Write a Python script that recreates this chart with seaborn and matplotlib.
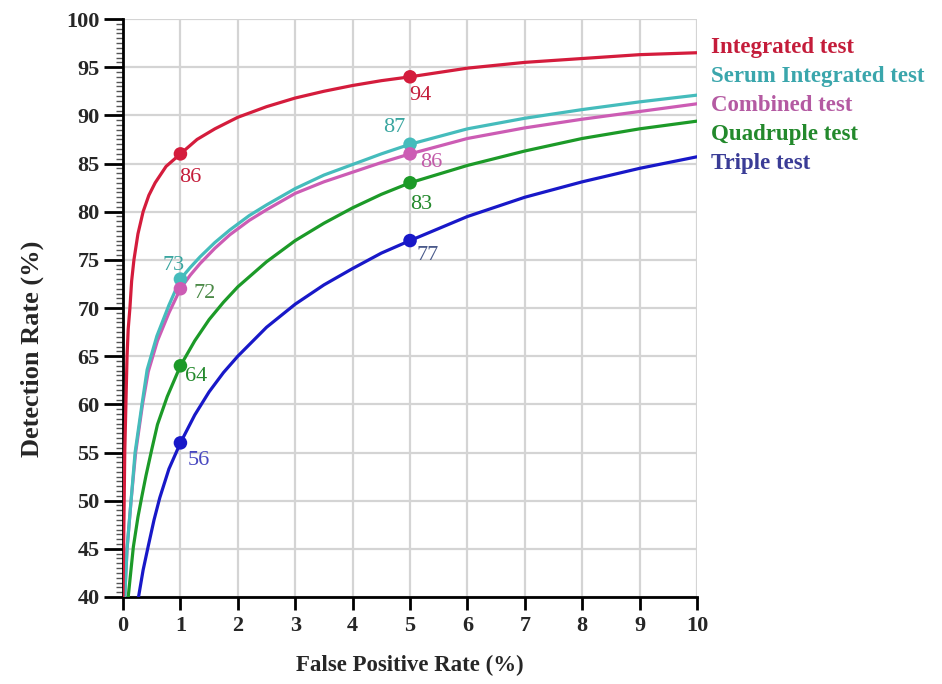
import matplotlib
matplotlib.use("Agg")
import matplotlib.pyplot as plt
from matplotlib.ticker import MultipleLocator
import pandas as pd
import seaborn as sns

# Screening-test ROC curves: detection rate vs false positive rate
tests = ["Integrated test", "Serum Integrated test", "Combined test",
         "Quadruple test", "Triple test"]

integrated_fpr = [0, 0.01, 0.02, 0.03, 0.05, 0.07, 0.09, 0.12, 0.15, 0.19, 0.26, 0.35,
                  0.45, 0.56, 0.75, 1, 1.29, 1.6, 2, 2.5, 3, 3.5, 4, 4.5, 5,
                  6, 7, 8, 9, 10]
integrated_dr = [40, 45, 50, 55, 60, 65, 67.8, 70, 72.8, 75, 77.7, 80,
                 81.7, 83, 84.7, 86, 87.5, 88.6, 89.8, 90.9, 91.8, 92.5, 93.1, 93.6, 94,
                 94.9, 95.5, 95.9, 96.3, 96.5]

serum_fpr = [0.03, 0.07, 0.14, 0.21, 0.33, 0.42, 0.59, 0.8, 1,
             1.17, 1.34, 1.6, 1.86, 2.2, 2.5, 3, 3.5, 4, 4.5, 5, 6, 7, 8, 9, 10]
serum_dr = [40, 45, 50, 55, 60, 63.6, 67.1, 70.3, 73,
            74.2, 75.3, 76.8, 78.1, 79.6, 80.7, 82.4, 83.8, 84.9, 86, 87,
            88.6, 89.7, 90.6, 91.4, 92.1]

combined_fpr = [0.03, 0.07, 0.14, 0.22, 0.34, 0.44, 0.6, 0.8, 1,
                1.17, 1.34, 1.6, 1.86, 2.2, 2.5, 3, 3.5, 4, 4.5, 5, 6, 7, 8, 9, 10]
combined_dr = [40, 45, 50, 55, 60, 63.4, 66.6, 69.5, 72,
               73.4, 74.6, 76.2, 77.6, 79.1, 80.2, 81.9, 83.1, 84.1, 85.1, 86,
               87.6, 88.7, 89.6, 90.4, 91.2]

quadruple_fpr = [0.09, 0.18, 0.26, 0.33, 0.4, 0.5, 0.6, 0.77, 1, 1.25, 1.5, 1.75, 2,
                 2.5, 3, 3.5, 4, 4.5, 5, 6, 7, 8, 9, 10]
quadruple_dr = [40, 45.2, 48.3, 50.5, 52.6, 55.3, 57.9, 60.8, 64, 66.6, 68.8, 70.6, 72.2,
                74.8, 77, 78.8, 80.4, 81.8, 83, 84.8, 86.3, 87.6, 88.6, 89.4]

triple_fpr = [0.27, 0.35, 0.44, 0.54, 0.64, 0.8, 1, 1.25, 1.5, 1.75, 2, 2.5, 3, 3.5,
              4, 4.5, 5, 6, 7, 8, 9, 10]
triple_dr = [40, 42.8, 45.3, 48, 50.3, 53.3, 56, 58.9, 61.3, 63.3, 65, 68, 70.4, 72.4,
             74.1, 75.7, 77, 79.5, 81.5, 83.1, 84.5, 85.7]

# Highlighted operating points (FPR 1% and 5%)
marker_fpr = [1, 5]
integrated_pts = [86, 94]
serum_pts = [73, 87]
combined_pts = [72, 86]
quadruple_pts = [64, 83]
triple_pts = [56, 77]

line_colors = {"Integrated test": "#d41c3c", "Serum Integrated test": "#45bcbc",
               "Combined test": "#cc5cb4", "Quadruple test": "#1c9a28",
               "Triple test": "#1818c8"}
text_colors = {"Integrated test": "#c41c3a", "Serum Integrated test": "#3aa6ac",
               "Combined test": "#b45aa2", "Quadruple test": "#23892c",
               "Triple test": "#3a3c96"}

curves = {
    "Triple test": (triple_fpr, triple_dr),
    "Quadruple test": (quadruple_fpr, quadruple_dr),
    "Combined test": (combined_fpr, combined_dr),
    "Serum Integrated test": (serum_fpr, serum_dr),
    "Integrated test": (integrated_fpr, integrated_dr),
}
points = {
    "Triple test": triple_pts,
    "Quadruple test": quadruple_pts,
    "Serum Integrated test": serum_pts,
    "Combined test": combined_pts,
    "Integrated test": integrated_pts,
}

curve_df = pd.concat(
    [pd.DataFrame({"fpr": x, "dr": y, "test": name}) for name, (x, y) in curves.items()],
    ignore_index=True)
point_df = pd.concat(
    [pd.DataFrame({"fpr": marker_fpr, "dr": v, "test": name}) for name, v in points.items()],
    ignore_index=True)

sns.set_theme(style="whitegrid")
plt.rcParams["font.family"] = ["Liberation Serif", "DejaVu Serif"]
plt.rcParams["font.weight"] = "bold"

fig = plt.figure(figsize=(9.42, 6.84), dpi=100)
ax = fig.add_axes([0.1306, 0.1272, 0.6094, 0.845])

sns.lineplot(data=curve_df, x="fpr", y="dr", hue="test", palette=line_colors,
             estimator=None, sort=False, linewidth=2.3, legend=False, ax=ax, zorder=3)
for ln in ax.lines:
    ln.set_solid_joinstyle("round")
    ln.set_solid_capstyle("round")
for name in points:
    sub = point_df[point_df["test"] == name]
    sns.scatterplot(data=sub, x="fpr", y="dr", color=line_colors[name], s=95,
                    edgecolor="none", legend=False, ax=ax, zorder=4)

# value labels next to the operating points (offsets in pixels)
label_offsets = {
    "Integrated test": [(10, -24), (10, -19)],
    "Serum Integrated test": [(-7, 14), (-16, 17)],
    "Combined test": [(24, -5), (21, -9)],
    "Quadruple test": [(16, -11), (11, -22)],
    "Triple test": [(18, -18), (18, -15)],
}
label_colors = {"Integrated test": "#c41c3a", "Serum Integrated test": "#3aa6a0",
                "Combined test": ["#4c8a48", "#c25aa8"], "Quadruple test": "#23892c",
                "Triple test": ["#4848c0", "#4a5a8a"]}
for name, vals in points.items():
    for i, (fx, v) in enumerate(zip(marker_fpr, vals)):
        col = label_colors[name]
        if isinstance(col, list):
            col = col[i]
        ax.annotate(f"{v:g}", (fx, v), xytext=label_offsets[name][i],
                    textcoords="offset pixels", ha="center", va="center",
                    fontsize=16, fontweight="normal", color=col, zorder=5)

# series names at the right of the curves
legend_y = [97.0, 94.0, 91.05, 88.05, 85.05]
for name, ly in zip(tests, legend_y):
    ax.text(10.24, ly, name, color=text_colors[name], fontsize=16.5,
            fontweight="bold", ha="left", va="center", clip_on=False)

ax.set_xlim(0, 10)
ax.set_ylim(40, 100)
ax.xaxis.set_major_locator(MultipleLocator(1))
ax.yaxis.set_major_locator(MultipleLocator(5))
ax.yaxis.set_minor_locator(MultipleLocator(0.5))
ax.grid(True, which="major", color="#d4d4d4", linewidth=1.6)
ax.grid(False, which="minor")
ax.set_facecolor("white")

for side in ["top", "right"]:
    ax.spines[side].set_visible(False)
for side in ["left", "bottom"]:
    ax.spines[side].set_visible(True)
    ax.spines[side].set_color("black")
    ax.spines[side].set_linewidth(2)

ax.tick_params(axis="y", which="major", direction="out", length=14, width=2,
               color="black", left=True, labelsize=16, pad=3)
ax.tick_params(axis="y", which="minor", direction="out", length=5, width=1,
               color="#555555", left=True)
ax.tick_params(axis="x", which="major", direction="out", length=9, width=2,
               color="black", bottom=True, labelsize=16, pad=5)
for lab in ax.get_xticklabels() + ax.get_yticklabels():
    lab.set_fontweight("bold")

ax.set_xlabel("False Positive Rate (%)", fontsize=16.5, fontweight="bold", labelpad=13)
ax.set_ylabel("Detection Rate (%)", fontsize=19, fontweight="bold")
ax.yaxis.set_label_coords(-0.137, 0.43)

fig.savefig("out.png", dpi=100, facecolor="white")
